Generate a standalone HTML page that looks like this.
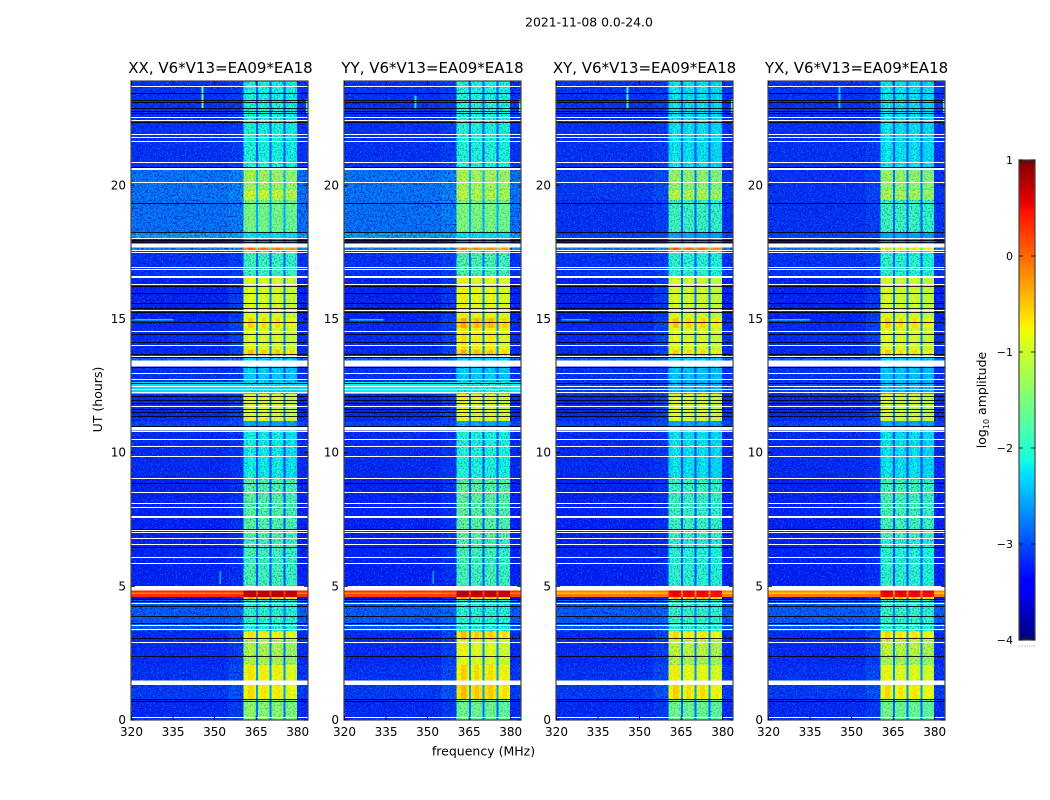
<!DOCTYPE html>
<html>
<head>
<meta charset="utf-8">
<title>2021-11-08 dynamic spectra</title>
<style>
html,body{margin:0;padding:0;background:#fff;}
#chart{display:block;width:1050px;height:800px;font-family:"DejaVu Sans","Liberation Sans",sans-serif;}
text{fill:#000;}
</style>
</head>
<body>
<svg id="chart" xmlns="http://www.w3.org/2000/svg" width="1050" height="800" viewBox="0 0 1050 800">
  <defs>
    <filter id="grain-dark" x="0" y="0" width="100%" height="100%" color-interpolation-filters="sRGB">
      <feTurbulence type="fractalNoise" baseFrequency="0.62" numOctaves="2" seed="4"/>
      <feColorMatrix type="matrix" values="0 0 0 0 0  0 0 0 0 0  0 0 0 0 0.7  3.2 0 0 0 -1.45"/>
    </filter>
    <filter id="grain-light" x="0" y="0" width="100%" height="100%" color-interpolation-filters="sRGB">
      <feTurbulence type="fractalNoise" baseFrequency="0.58" numOctaves="2" seed="11"/>
      <feColorMatrix type="matrix" values="0 0 0 0 0.05  0 0 0 0 0.5  0 0 0 0 1  0 2.6 0 0 -1.4"/>
    </filter>
  </defs>
  <text x="589" y="26.5" font-size="12.4" text-anchor="middle">2021-11-08 0.0-24.0</text>
  <text x="483.5" y="755.5" font-size="12.5" text-anchor="middle">frequency (MHz)</text>
  <text x="0" y="0" font-size="12.5" text-anchor="middle" transform="translate(102 399.5) rotate(-90)">UT (hours)</text>
  <text x="0" y="0" font-size="12.5" text-anchor="middle" transform="translate(986 400) rotate(-90)">log<tspan font-size="8" dy="3">10</tspan><tspan dy="-3"> amplitude</tspan></text>
  <g id="panels"></g>
  <g id="colorbar"></g>
</svg>
<script>
// ---- categories and axes ----
const panelNames = ["XX", "YY", "XY", "YX"];
const baselineLabel = "V6*V13=EA09*EA18";
const freqTicks = [320, 335, 350, 365, 380];
const hourTicks = [0, 5, 10, 15, 20];
const colorTicks = [1, 0, -1, -2, -3, -4];
const colorTickLabels = ["1", "0", "\u22121", "\u22122", "\u22123", "\u22124"];
const freqMin = 320, freqMax = 383.9, hourMin = 0, hourMax = 24, levelMin = -4, levelMax = 1;
const hourTickCalibration = 1.0042;

// ---- frequency columns (MHz) and how much of the in-band level each one takes ----
const freqEdges = [320, 355, 360.5, 362, 364, 365, 365.6, 367, 368.6, 369.8, 370.5, 372, 373.6, 374.9, 375.6, 377, 378.6, 379.8, 383.9];
const freqWeights = [0, 0.06, 0.97, 1.06, 0.97, 0.2, 0.96, 1.03, 0.97, 0.2, 0.97, 1.03, 0.96, 0.2, 0.93, 0.98, 0.93, 0];

// ---- time bands (UT hours, top to bottom) ----
const hourEdges = [24, 20.69, 19.91, 19.53, 18.33, 18.10, 17.75, 17.65, 16.68, 16.60, 15.10, 14.72, 13.90, 13.67, 13.28, 12.70, 12.25, 11.23, 11.0, 9.09, 6.76, 4.86, 4.79, 4.73, 4.62, 4.51, 3.34, 3.00, 2.44, 2.07, 1.50, 1.31, 0.75, 0];

// ---- log10 amplitude away from the bright band, per polarisation ----
const outerXX = [-3.1, -2.7, -2.7, -2.72, -2.45, -3.3, -2.6, -3.1, -2.1, -3.2, -3.15, -3.15, -3.15, -2.8, -3.1, -2.3, -3.15, -3.0, -3.15, -3.2, -3.2, 0.35, -0.15, 0.3, -3.3, -2.85, -3.15, -3.15, -3.15, -3.1, -3.1, -3.05, -3.15];
const outerYY = [-3.1, -2.7, -2.7, -2.72, -2.45, -3.3, -2.6, -3.1, -2.1, -3.2, -3.15, -3.15, -3.15, -2.8, -3.1, -2.2, -3.15, -3.0, -3.15, -3.2, -3.2, 0.3, -0.2, 0.2, -3.3, -2.85, -3.15, -3.15, -3.15, -3.1, -3.1, -3.05, -3.15];
const outerXY = [-3.1, -3.05, -3.05, -3.1, -3.0, -3.3, -2.6, -3.1, -2.2, -3.2, -3.15, -3.15, -3.15, -2.8, -3.1, -3.0, -3.15, -3.0, -3.15, -3.2, -3.2, -0.15, -0.5, -0.1, -3.3, -2.85, -3.15, -3.15, -3.15, -3.1, -3.1, -3.05, -3.15];
const outerYX = [-3.1, -3.1, -3.1, -3.1, -3.0, -3.3, -2.6, -3.1, -2.2, -3.2, -3.15, -3.15, -3.15, -2.8, -3.1, -3.0, -3.15, -3.0, -3.15, -3.2, -3.2, -0.2, -0.55, -0.1, -3.3, -2.85, -3.15, -3.15, -3.15, -3.1, -3.1, -3.05, -3.15];

// ---- log10 amplitude inside the bright band, per polarisation ----
const innerXX = [-2.1, -1.3, -1.05, -1.55, -2.2, -2.6, -0.15, -1.9, -0.4, -0.95, -0.7, -0.95, -0.6, -2.3, -2.3, -2.2, -0.95, -2.5, -2.15, -1.75, -1.85, 0.75, 0.7, 0.75, -0.45, -2.0, -0.8, -1.2, -1.2, -0.8, -0.8, -0.75, -1.4];
const innerYY = [-2.05, -1.25, -1.15, -1.5, -2.2, -2.6, -0.25, -1.8, -0.4, -0.85, -0.5, -0.78, -0.55, -2.3, -2.3, -2.1, -0.9, -2.5, -2.05, -1.7, -1.85, 0.75, 0.7, 0.7, -0.45, -2.0, -0.6, -0.9, -0.95, -0.7, -0.7, -0.6, -1.6];
const innerXY = [-2.2, -1.4, -1.2, -1.9, -2.5, -2.6, -0.1, -2.0, -0.5, -1.0, -0.65, -0.95, -0.7, -2.3, -2.35, -2.4, -0.95, -2.5, -2.2, -1.9, -2.0, 0.55, 0.5, 0.5, -0.45, -1.95, -0.75, -1.1, -1.2, -0.85, -0.85, -0.7, -1.6];
const innerYX = [-2.2, -1.4, -1.25, -1.9, -2.5, -2.6, -0.7, -2.0, -0.5, -1.0, -0.7, -0.95, -0.7, -2.3, -2.35, -2.4, -1.0, -2.5, -2.2, -1.85, -2.0, 0.6, 0.5, 0.5, -0.45, -1.95, -0.75, -1.1, -1.25, -0.9, -0.9, -0.75, -1.6];

// ---- isolated interference features ----
const rfiPanel = [0, 1, 2, 3, 0, 1, 2, 3, 0, 1, 2, 3, 0, 1];
const rfiFreqLo = [345.2, 345.2, 345.2, 345.2, 320, 322, 322, 320, 383, 383, 383, 383, 351.8, 351.8];
const rfiFreqHi = [346.0, 346.0, 346.0, 346.0, 335, 334, 332, 335, 383.9, 383.9, 383.9, 383.9, 352.4, 352.4];
const rfiHourHi = [23.81, 23.45, 23.81, 23.81, 15.07, 15.07, 15.07, 15.07, 23.3, 23.3, 23.3, 23.3, 5.6, 5.6];
const rfiHourLo = [22.94, 22.94, 22.94, 22.94, 15.0, 15.0, 15.0, 15.0, 22.8, 22.8, 22.8, 22.8, 5.1, 5.1];
const rfiLevel = [-1.6, -2.2, -2.0, -2.3, -2.3, -2.3, -2.4, -2.3, -1.9, -1.9, -1.9, -1.9, -2.5, -2.6];

// ---- flagged time rows (UT hours) ----
const whiteRows = [23.81, 22.65, 22.54, 22.01, 21.90, 21.75, 20.95, 20.19, 18.11, 17.65, 17.57, 17.02, 16.94, 16.37, 15.39, 14.60, 14.08, 13.68, 13.02, 12.80, 12.54, 12.43, 12.31, 11.81, 10.85, 10.54, 10.29, 9.90, 9.08, 8.56, 8.14, 7.99, 7.14, 7.06, 6.82, 6.60, 6.11, 5.89, 4.38, 3.56, 3.41, 2.92, 0.10];
const whiteThickRows = [20.69, 16.63, 7.64];
const whiteBlocksTop = [17.90, 13.50, 11.00, 5.03, 1.49];
const whiteBlocksBottom = [17.75, 13.28, 10.88, 4.86, 1.31];
const blackRows = [23.54, 23.29, 23.22, 23.00, 22.89, 22.79, 22.46, 20.76, 19.43, 18.32, 18.03, 17.96, 16.30, 16.03, 15.66, 15.47, 15.32, 14.95, 14.50, 14.21, 13.73, 13.63, 13.26, 12.67, 12.17, 12.01, 11.89, 11.68, 11.58, 11.43, 11.04, 8.89, 7.19, 6.49, 4.56, 4.47, 4.29, 3.91, 3.63, 3.07, 2.40, 0.77, 0.72];

const innerByPanel = [innerXX, innerYY, innerXY, innerYX];
const outerByPanel = [outerXX, outerYY, outerXY, outerYX];

const NS = "http://www.w3.org/2000/svg";
const panelsRoot = document.getElementById("panels");
const colorbarRoot = document.getElementById("colorbar");
const panelLefts = [131, 344, 556, 768];
const panelWidth = 177, panelTop = 81, panelBottom = 720;
const barLeft = 1019, barRight = 1035, barTop = 160, barBottom = 640;

function xScale(left, f) { return left + 0.5 + (f - freqMin) / (freqMax - freqMin) * panelWidth; }
function yScale(h) { return panelBottom - (h - hourMin) / (hourMax - hourMin) * (panelBottom - panelTop); }
function barScale(v) { return barTop + (levelMax - v) / (levelMax - levelMin) * (barBottom - barTop); }

function ramp(t, pts) {
  for (let i = 1; i < pts.length; i++) {
    if (t <= pts[i][0]) {
      const a = pts[i - 1], b = pts[i];
      return a[1] + (b[1] - a[1]) * (t - a[0]) / (b[0] - a[0]);
    }
  }
  return pts[pts.length - 1][1];
}
function jet(v) {
  const t = Math.max(0, Math.min(1, (v - levelMin) / (levelMax - levelMin)));
  const r = ramp(t, [[0, 0], [0.35, 0], [0.66, 1], [0.89, 1], [1, 0.5]]);
  const g = ramp(t, [[0, 0], [0.125, 0], [0.375, 1], [0.64, 1], [0.91, 0], [1, 0]]);
  const b = ramp(t, [[0, 0.5], [0.11, 1], [0.34, 1], [0.65, 0], [1, 0]]);
  return "rgb(" + Math.round(r * 255) + "," + Math.round(g * 255) + "," + Math.round(b * 255) + ")";
}
function make(tag, parent, attrs) {
  const node = document.createElementNS(NS, tag);
  for (const k in attrs) node.setAttribute(k, attrs[k]);
  parent.appendChild(node);
  return node;
}

panelNames.forEach(function (pol, p) {
  const left = panelLefts[p];
  const right = left + panelWidth;
  const group = make("g", panelsRoot, {});
  
  

  const coldCells = make("g", group, {"shape-rendering": "crispEdges"});
  
  

  // fine speckle texture over the background cells
  const dark = make("rect", group, {x: left, y: panelTop, width: panelWidth, height: panelBottom - panelTop, filter: "url(#grain-dark)"});
  
  
  const light = make("rect", group, {x: left, y: panelTop, width: panelWidth, height: panelBottom - panelTop, filter: "url(#grain-light)"});
  
  

  const warmCells = make("g", group, {"shape-rendering": "crispEdges"});
  
  

  // band × frequency cells
  for (let b = 0; b < hourEdges.length - 1; b++) {
    const yTop = yScale(hourEdges[b]), yBot = yScale(hourEdges[b + 1]);
    for (let c = 0; c < freqWeights.length; c++) {
      const x0 = Math.max(left, xScale(left, freqEdges[c]));
      const x1 = Math.min(right, xScale(left, freqEdges[c + 1]));
      const level = outerByPanel[p][b] + (innerByPanel[p][b] - outerByPanel[p][b]) * freqWeights[c];
      const warm = freqWeights[c] >= 0.2 || outerByPanel[p][b] > -2.4;
      const cell = make("rect", warm ? warmCells : coldCells, {x: x0, y: yTop, width: x1 - x0, height: yBot - yTop, fill: jet(level)});
      
      
    }
  }
  // isolated interference
  rfiPanel.forEach(function (owner, i) {
    if (owner !== p) return;
    const x0 = xScale(left, rfiFreqLo[i]);
    const x1 = Math.min(right, xScale(left, rfiFreqHi[i]));
    const mark = make("rect", warmCells, {x: x0, y: yScale(rfiHourHi[i]), width: x1 - x0, height: yScale(rfiHourLo[i]) - yScale(rfiHourHi[i]), fill: jet(rfiLevel[i])});
    
    
  });

  // speckle across the bright band: moderate in weak rows, faint in saturated rows
  const bandX0 = xScale(left, freqEdges[2]);
  const bandX1 = xScale(left, freqEdges[17]);
  for (let b = 0; b < hourEdges.length - 1; b++) {
    const yTop = yScale(hourEdges[b]), yBot = yScale(hourEdges[b + 1]);
    const inner = innerByPanel[p][b];
    const strength = inner < -1.6 ? 0.42 : (inner < -1 ? 0.25 : 0.1);
    const speck = make("rect", group, {x: bandX0, y: yTop, width: bandX1 - bandX0, height: yBot - yTop, filter: "url(#grain-dark)", opacity: strength});
    
    
  }

  // flagged rows
  const flags = make("g", group, {"shape-rendering": "crispEdges"});
  
  
  blackRows.forEach(function (h) {
    const line = make("rect", flags, {x: left, y: Math.round(yScale(h)), width: panelWidth, height: 1, fill: "#000", opacity: 0.85});
    
    
  });
  whiteRows.forEach(function (h) {
    const line = make("rect", flags, {x: left, y: Math.round(yScale(h)), width: panelWidth, height: 1, fill: "#fff"});
    
    
  });
  whiteThickRows.forEach(function (h) {
    const line = make("rect", flags, {x: left, y: Math.round(yScale(h)) - 1, width: panelWidth, height: 2, fill: "#fff"});
    
    
  });
  whiteBlocksTop.forEach(function (h, i) {
    const block = make("rect", flags, {x: left, y: yScale(h), width: panelWidth, height: yScale(whiteBlocksBottom[i]) - yScale(h), fill: "#fff"});
    
    
  });

  // frame
  const frame = make("rect", group, {x: left, y: panelTop, width: panelWidth, height: panelBottom - panelTop, fill: "none", stroke: "#444", "stroke-width": 1.2});
  
  

  // x ticks
  freqTicks.forEach(function (f) {
    const x = xScale(left, f);
    const tickB = make("line", group, {x1: x, x2: x, y1: panelBottom, y2: panelBottom - 4, stroke: "#000", "stroke-width": 0.8});
    
    
    const tickT = make("line", group, {x1: x, x2: x, y1: panelTop, y2: panelTop + 4, stroke: "#000", "stroke-width": 0.8});
    
    
    const label = make("text", group, {x: x, y: 736, "font-size": 12, "text-anchor": "middle"});
    label.textContent = String(f);
    
    
  });
  // y ticks
  hourTicks.forEach(function (h) {
    const y = yScale(h * hourTickCalibration);
    const tickL = make("line", group, {x1: left, x2: left + 4, y1: y, y2: y, stroke: "#000", "stroke-width": 0.8});
    
    
    const tickR = make("line", group, {x1: right, x2: right - 4, y1: y, y2: y, stroke: "#000", "stroke-width": 0.8});
    
    
    const label = make("text", group, {x: left - 5, y: y + 4, "font-size": 12, "text-anchor": "end"});
    label.textContent = String(h);
    
    
  });
  // title
  const title = make("text", group, {x: left + panelWidth / 2 + (p === 0 ? 1 : 0), y: 73, "font-size": 15, "text-anchor": "middle"});
  title.textContent = pol + ", " + baselineLabel;
  
  
});

// ---- colorbar ----
const barCells = make("g", colorbarRoot, {"shape-rendering": "crispEdges"});


const barStep = (levelMax - levelMin) / (barBottom - barTop);
for (let v = levelMax; v > levelMin + 1e-9; v -= barStep) {
  const seg = make("rect", barCells, {x: barLeft, y: barScale(v), width: barRight - barLeft, height: 1.2, fill: jet(v - barStep / 2)});
  
  
}
const barFrame = make("rect", colorbarRoot, {x: barLeft, y: barTop, width: barRight - barLeft, height: barBottom - barTop, fill: "none", stroke: "#444", "stroke-width": 1.2});


colorTicks.forEach(function (v, i) {
  const y = barScale(v);
  const tickL = make("line", colorbarRoot, {x1: barLeft, x2: barLeft + 4, y1: y, y2: y, stroke: "#000", "stroke-width": 0.8});
  
  
  const tickR = make("line", colorbarRoot, {x1: barRight, x2: barRight - 4, y1: y, y2: y, stroke: "#000", "stroke-width": 0.8});
  
  
  const label = make("text", colorbarRoot, {x: barLeft - 6, y: y + 4, "font-size": 11, "text-anchor": "end"});
  label.textContent = colorTickLabels[i];
  
  
});
[0, 1, 2, 3, 4, 5, 6].forEach(function (i) {
  const x = barLeft + 1 + i * 2.4;
  const top = make("line", colorbarRoot, {x1: x, x2: x, y1: barTop, y2: barTop + 4, stroke: "#222", "stroke-width": 0.7});
  
  
  const bottom = make("line", colorbarRoot, {x1: x, x2: x, y1: barBottom, y2: barBottom - 4, stroke: "#222", "stroke-width": 0.7});
  
  
  const dot = make("rect", colorbarRoot, {x: x - 0.5, y: 645.5, width: 1, height: 1, fill: "#999"});
  
  
});
</script>
</body>
</html>
